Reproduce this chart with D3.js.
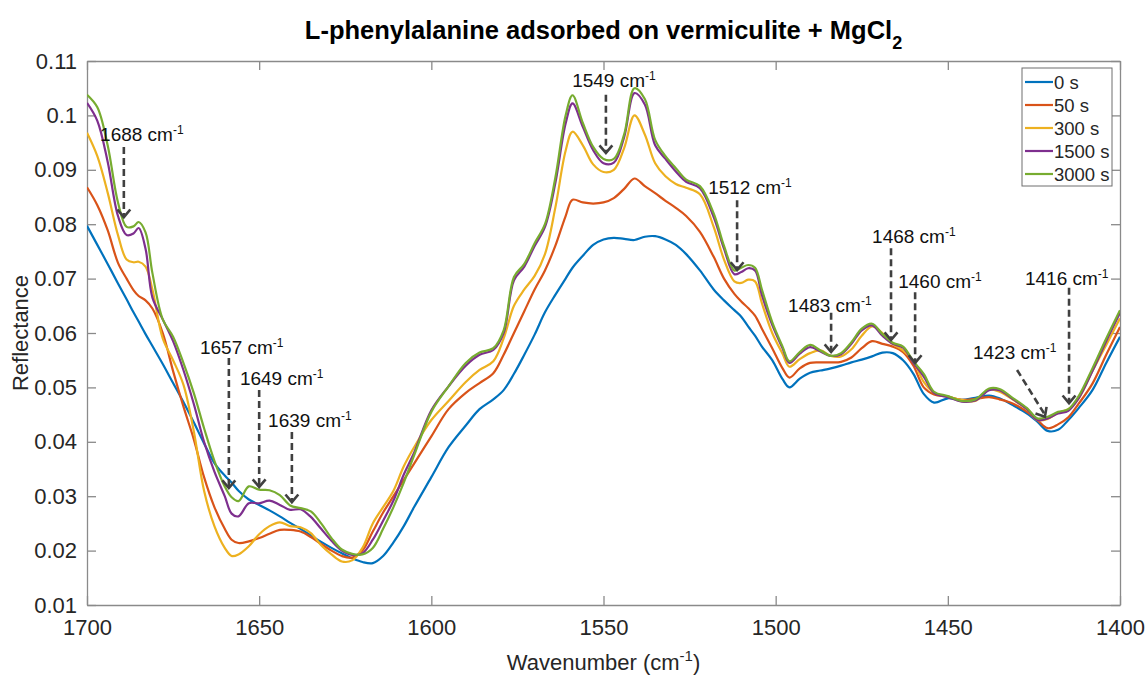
<!DOCTYPE html>
<html>
<head>
<meta charset="utf-8">
<script src="https://cdn.jsdelivr.net/npm/d3@7"></script>
<style>
  body { margin: 0; background: #fff; }
  text { font-family: "Liberation Sans", Arial, sans-serif; }
</style>
</head>
<body>
<div id="chart"></div>
<script>
// wavenumber grid (cm-1), shared by all series
const wavenumbers = [1700,1697,1694,1691,1688.5,1686.5,1685,1683,1681,1678,1675,1672,1669,1666,1663,1660,1658,1656,1653,1650,
  1647,1644,1641,1638,1635,1632,1629,1626,1623,1620,1617,1614,1611,1608,1605,1600,1595,1590,1586,1582,
  1579,1576,1573,1570,1567,1564,1561,1559,1556,1553,1550,1547,1544,1541,1538,1535,1532,1529,1526,1522,
  1518,1515,1512,1510,1508,1506,1504,1501,1498,1496,1493,1490,1487,1484,1481,1478,1475,1472,1469,1466,
  1463,1460,1457,1454,1450,1446,1442,1438,1435,1431,1427,1424,1421,1418,1415,1412,1408,1404,1400];

const s0 = [.0797,.0762,.0727,.0691,.0662,.0638,.0621,.0598,.0576,.0543,.0508,.0473,.0436,.0397,.0361,.0338,.0325,.0310,.0294,.0284,
  .0274,.0263,.0251,.0240,.0228,.0216,.0205,.0195,.0186,.0179,.0177,.0190,.0215,.0245,.0280,.0335,.0390,.0430,.0460,.0478,
  .0495,.0525,.0560,.0597,.0638,.0670,.0700,.0720,.0742,.0762,.0772,.0775,.0773,.0771,.0777,.0778,.0772,.0762,.0745,.0715,
  .0680,.0660,.0642,.0630,.0612,.0595,.0575,.0550,.0515,.0500,.0516,.0527,.0531,.0535,.0540,.0546,.0551,.0557,.0564,.0563,
  .0550,.0525,.0488,.0472,.0480,.0477,.0481,.0485,.0480,.0467,.0452,.0437,.0420,.0422,.0440,.0462,.0495,.0545,.0593];

const s50 = [.0868,.0835,.0789,.0729,.0700,.0679,.0668,.0660,.0645,.0600,.0530,.0465,.0405,.0335,.0280,.0240,.0220,.0214,.0217,.0223,
  .0231,.0238,.0238,.0235,.0225,.0212,.0200,.0190,.0187,.0200,.0235,.0270,.0300,.0330,.0360,.0410,.0460,.0490,.0508,.0526,
  .0560,.0600,.0640,.0680,.0715,.0760,.0815,.0845,.0840,.0838,.0840,.0848,.0865,.0884,.0870,.0857,.0843,.0830,.0815,.0786,
  .0740,.0700,.0672,.0658,.0646,.0632,.0608,.0572,.0535,.0518,.0535,.0545,.0546,.0546,.0547,.0555,.0572,.0585,.0580,.0575,
  .0565,.0540,.0500,.0487,.0483,.0477,.0479,.0482,.0478,.0470,.0455,.0440,.0425,.0432,.0445,.0470,.0507,.0560,.0611];

const s300 = [.0968,.0925,.0858,.0780,.0735,.0730,.0731,.0722,.0680,.0590,.0550,.0505,.0420,.0310,.0245,.0205,.0190,.0193,.0208,.0230,
  .0245,.0252,.0245,.0243,.0232,.0210,.0193,.0180,.0182,.0205,.0250,.0280,.0310,.0355,.0390,.0440,.0475,.0510,.0532,.0548,
  .0590,.0650,.0680,.0705,.0745,.0830,.0935,.0970,.0945,.0910,.0896,.0900,.0940,.1000,.0965,.0912,.0888,.0874,.0867,.0855,
  .0795,.0735,.0695,.0692,.0698,.0695,.0655,.0600,.0562,.0538,.0552,.0563,.0568,.0558,.0557,.0570,.0595,.0612,.0600,.0580,
  .0568,.0548,.0510,.0490,.0483,.0477,.0475,.0496,.0492,.0477,.0460,.0440,.0442,.0453,.0460,.0480,.0530,.0578,.0627];

const s1500 = [.1023,.0990,.0915,.0815,.0780,.0783,.0793,.0755,.0665,.0625,.0585,.0532,.0470,.0400,.0345,.0300,.0268,.0263,.0287,.0287,
  .0292,.0284,.0275,.0276,.0262,.0240,.0218,.0200,.0192,.0195,.0220,.0255,.0292,.0340,.0380,.0458,.0502,.0540,.0560,.0569,
  .0600,.0697,.0722,.0760,.0795,.0875,.0985,.1022,.0979,.0936,.0912,.0913,.0960,.1041,.1020,.0945,.0920,.0897,.0878,.0866,
  .0813,.0755,.0708,.0712,.0719,.0715,.0670,.0615,.0572,.0545,.0562,.0574,.0566,.0558,.0561,.0580,.0605,.0614,.0595,.0580,
  .0573,.0545,.0520,.0490,.0482,.0474,.0476,.0495,.0495,.0478,.0460,.0440,.0443,.0452,.0457,.0480,.0530,.0585,.0637];

const s3000 = [.1038,.1015,.0945,.0840,.0795,.0796,.0804,.0785,.0710,.0625,.0593,.0545,.0490,.0425,.0365,.0318,.0298,.0291,.0318,.0312,
  .0311,.0302,.0283,.0278,.0272,.0250,.0223,.0202,.0194,.0193,.0205,.0240,.0280,.0325,.0375,.0455,.0502,.0545,.0564,.0572,
  .0605,.0703,.0727,.0765,.0800,.0885,.1000,.1037,.0986,.0942,.0920,.0920,.0965,.1050,.1030,.0955,.0925,.0903,.0882,.0870,
  .0820,.0760,.0715,.0720,.0725,.0720,.0680,.0620,.0575,.0548,.0565,.0578,.0568,.0558,.0563,.0583,.0608,.0617,.0598,.0582,
  .0575,.0548,.0525,.0492,.0484,.0475,.0478,.0498,.0497,.0480,.0462,.0443,.0446,.0455,.0460,.0484,.0535,.0590,.0642];

const seriesNames = ["0 s", "50 s", "300 s", "1500 s", "3000 s"];
const seriesValues = [s0, s50, s300, s1500, s3000];
const colors = ["#0072BD", "#D95319", "#EDB120", "#7E2F8E", "#77AC30"];

const xTicks = [1700, 1650, 1600, 1550, 1500, 1450, 1400];
const yTicks = [0.01, 0.02, 0.03, 0.04, 0.05, 0.06, 0.07, 0.08, 0.09, 0.1, 0.11];

// peak annotations (positions in data units: cm-1 / reflectance)
const annLabels = ["1688", "1549", "1512", "1483", "1468", "1460", "1423", "1416", "1657", "1649", "1639"];
const annFromX = [1689.3, 1549.3, 1511.2, 1483.9, 1466.5, 1459.5, 1429.9, 1414.8, 1658.8, 1650, 1640.5];
const annFromY = [0.0942, 0.1038, 0.0844, 0.0637, 0.0756, 0.0675, 0.0532, 0.0683, 0.0554, 0.0495, 0.0418];
const annToX = [1689.3, 1549.3, 1511.2, 1483.9, 1466.5, 1459.5, 1421.8, 1414.8, 1658.8, 1650, 1640.5];
const annToY = [0.0813, 0.0931, 0.0716, 0.0565, 0.0587, 0.0545, 0.0446, 0.0471, 0.0315, 0.0317, 0.0289];
const annTextX = [1696.2, 1559.1, 1519.6, 1496.4, 1472.0, 1464.4, 1442.7, 1427.6, 1667.2, 1655.6, 1647.4];
const annTextY = [0.0964, 0.1065, 0.0867, 0.0651, 0.0778, 0.0694, 0.0565, 0.0701, 0.0574, 0.0517, 0.0440];

const width = 1146, height = 675;
const margin = {top: 61, right: 26, bottom: 70, left: 87};
const axisColor = "#8a8a8a", textColor = "#262626", annColor = "#404040";

const svg = d3.select("#chart").append("svg")
  .attr("width", width)
  .attr("height", height);

const x = d3.scaleLinear().domain([1700, 1400]).range([margin.left, width - margin.right]);
const y = d3.scaleLinear().domain([0.01, 0.11]).range([height - margin.bottom, margin.top]);

// title
const title = svg.append("text")
  .attr("x", (x.range()[0] + x.range()[1]) / 2)
  .attr("y", 39)
  .attr("text-anchor", "middle")
  .attr("font-size", 25.5)
  .attr("font-weight", "bold")
  .attr("fill", "#000");
title.append("tspan").text("L-phenylalanine adsorbed on vermiculite + MgCl");
title.append("tspan").attr("dy", 10).attr("font-size", 18).text("2");

svg.append("clipPath").attr("id", "clip")
  .append("rect")
  .attr("x", x.range()[0]).attr("y", y.range()[1])
  .attr("width", x.range()[1] - x.range()[0])
  .attr("height", y.range()[0] - y.range()[1]);

// axes (MATLAB style, ticks inward, box on)
const tickLen = 9;
const xAxisB = svg.append("g").attr("transform", "translate(0," + y(0.01) + ")")
  .call(d3.axisBottom(x).tickValues(xTicks).tickSizeInner(-tickLen).tickSizeOuter(0).tickPadding(20).tickFormat(d3.format("d")));
const xAxisT = svg.append("g").attr("transform", "translate(0," + y(0.11) + ")")
  .call(d3.axisTop(x).tickValues(xTicks).tickSizeInner(-tickLen).tickSizeOuter(0).tickFormat(""));
const yAxisL = svg.append("g").attr("transform", "translate(" + x(1700) + ",0)")
  .call(d3.axisLeft(y).tickValues(yTicks).tickSizeInner(-tickLen).tickSizeOuter(0).tickPadding(10).tickFormat(d => d3.format("")(+d.toFixed(2))));
const yAxisR = svg.append("g").attr("transform", "translate(" + x(1400) + ",0)")
  .call(d3.axisRight(y).tickValues(yTicks).tickSizeInner(-tickLen).tickSizeOuter(0).tickFormat(""));

[xAxisB, xAxisT, yAxisL, yAxisR].forEach(g => {
  g.select(".domain").attr("stroke", axisColor).attr("stroke-width", 1.3);
  g.selectAll(".tick line").attr("stroke", axisColor).attr("stroke-width", 1.3);
  g.selectAll(".tick text").attr("fill", textColor).attr("font-size", 22)
    .attr("font-family", "'Liberation Sans', Arial, sans-serif");
});
xAxisB.selectAll(".tick text").attr("dy", "0.45em");

// axis labels
svg.append("text")
  .attr("transform", "translate(28," + (y(0.06)) + ") rotate(-90)")
  .attr("text-anchor", "middle")
  .attr("font-size", 22)
  .attr("fill", textColor)
  .text("Reflectance");

const xl = svg.append("text")
  .attr("x", (x.range()[0] + x.range()[1]) / 2)
  .attr("y", 670)
  .attr("text-anchor", "middle")
  .attr("font-size", 22)
  .attr("fill", textColor);
xl.append("tspan").text("Wavenumber (cm");
xl.append("tspan").attr("dy", -9).attr("font-size", 15).text("-1");
xl.append("tspan").attr("dy", 9).text(")");

// spectra
const line = d3.line()
  .x(d => x(d[0]))
  .y(d => y(d[1]))
  .curve(d3.curveCatmullRom.alpha(0.5));

svg.append("g").attr("clip-path", "url(#clip)")
  .selectAll("path")
  .data(seriesValues)
  .enter()
  .append("path")
  .attr("fill", "none")
  .attr("stroke", (d, i) => colors[i])
  .attr("stroke-width", 2.2)
  .attr("stroke-linejoin", "round")
  .attr("d", vals => line(wavenumbers.map((w, i) => [w, vals[i]])));

// annotations
const ann = svg.append("g");
annLabels.forEach((lab, i) => {
  const x1 = x(annFromX[i]), y1 = y(annFromY[i]);
  const x2 = x(annToX[i]), y2 = y(annToY[i]);
  ann.append("line")
    .attr("x1", x1).attr("y1", y1).attr("x2", x2).attr("y2", y2 - 2)
    .attr("stroke", annColor).attr("stroke-width", 2.6)
    .attr("stroke-dasharray", "7,4");
  const ang = Math.atan2(y2 - y1, x2 - x1);
  const hl = 10, spread = 0.7;
  const p1 = [x2 - hl * Math.cos(ang - spread), y2 - hl * Math.sin(ang - spread)];
  const p2 = [x2 - hl * Math.cos(ang + spread), y2 - hl * Math.sin(ang + spread)];
  ann.append("path")
    .attr("d", "M" + p1 + "L" + [x2, y2] + "L" + p2)
    .attr("fill", "none").attr("stroke", annColor).attr("stroke-width", 2.6)
    .attr("stroke-linejoin", "miter");
  const t = ann.append("text")
    .attr("x", x(annTextX[i]))
    .attr("y", y(annTextY[i]) + 6.5)
    .attr("font-size", 19)
    .attr("fill", "#111");
  t.append("tspan").text(lab + " cm");
  t.append("tspan").attr("dy", -7).attr("font-size", 12).text("-1");
});

// legend
const lg = svg.append("g");
lg.append("rect")
  .attr("x", 1022).attr("y", 68)
  .attr("width", 90).attr("height", 118)
  .attr("fill", "#fff").attr("stroke", "#6e6e6e").attr("stroke-width", 1);
seriesNames.forEach((name, i) => {
  const ly = 82 + i * 23;
  lg.append("line")
    .attr("x1", 1025).attr("x2", 1053).attr("y1", ly).attr("y2", ly)
    .attr("stroke", colors[i]).attr("stroke-width", 2.2);
  lg.append("text")
    .attr("x", 1054).attr("y", ly + 6.5)
    .attr("font-size", 18.5).attr("fill", textColor)
    .text(name);
});
</script>
</body>
</html>
